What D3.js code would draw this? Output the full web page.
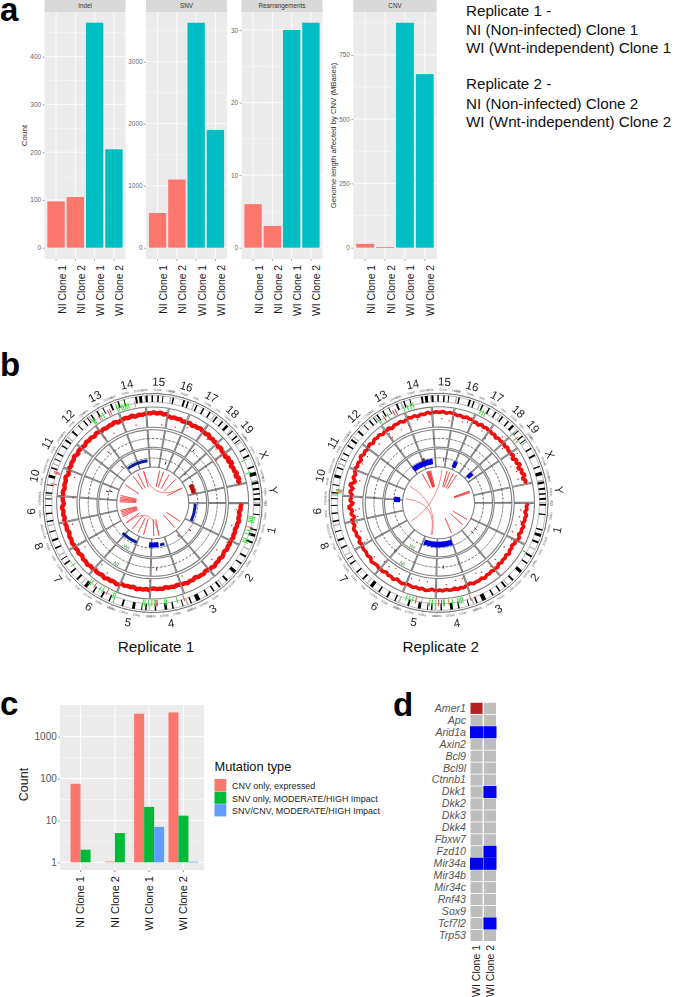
<!DOCTYPE html>
<html><head><meta charset="utf-8">
<script src="https://cdn.jsdelivr.net/npm/d3@7/dist/d3.min.js"></script>
<style>
html,body{margin:0;padding:0;background:#fff}
svg{display:block}
text{font-family:"Liberation Sans",Arial,sans-serif}
</style></head><body><svg id="c" width="674" height="997"><defs><filter id="soft" x="-5%" y="-5%" width="110%" height="110%"><feGaussianBlur stdDeviation="0.3"/></filter></defs></svg>
<script>
// ---------- panel a ----------
const clones = ["NI Clone 1","NI Clone 2","WI Clone 1","WI Clone 2"];
const indelValues = [97,106,471,206];
const snvValues = [560,1100,3630,1900];
const rearrangementValues = [6,3,30,31];
const cnvValues = [15,2,875,675];
const indelTicks = [0,100,200,300,400];
const snvTicks = [0,1000,2000,3000];
const rearrangementTicks = [0,10,20,30];
const cnvTicks = [0,250,500,750];
const infoLines = ["Replicate 1 -","NI (Non-infected) Clone 1","WI (Wnt-independent) Clone 1","","Replicate 2 -","NI (Non-infected) Clone 2","WI (Wnt-independent) Clone 2"];

// ---------- panel b ----------
const chromNames = ["1","2","3","4","5","6","7","8","9","10","11","12","13","14","15","16","17","18","19","X","Y"];
const chromLengths = [195,182,160,157,152,150,145,129,125,131,122,120,120,125,104,98,95,91,61,171,92];
const chromBands = [
 [[5,12],[45,50],[108,114],[128,140],[160,168]],
 [[28,36],[62,68],[100,114],[150,158]],
 [[8,16],[38,44],[70,76],[105,122],[142,148]],
 [[18,22],[58,64],[85,96],[130,136]],
 [[12,18],[30,34],[60,72],[108,116]],
 [[14,20],[48,56],[88,94],[122,136]],
 [[20,28],[58,64],[100,106],[124,128]],
 [[30,36],[62,70],[100,104]],
 [[14,20],[46,52],[80,84],[108,112]],
 [[6,12],[40,44],[72,84],[110,116]],
 [[18,22],[42,48],[78,84],[104,112]],
 [[26,34],[62,66],[90,96],[110,114]],
 [[8,14],[36,42],[64,68],[98,106]],
 [[10,16],[36,40],[84,92],[100,112]],
 [[2,10],[26,32],[50,56],[70,74]],
 [[8,14],[52,60],[70,76]],
 [[10,16],[40,46],[70,76]],
 [[8,14],[38,44],[62,72]],
 [[4,8],[30,36],[50,54]],
 [[30,36],[60,68],[110,116],[135,150]],
 [[4,14],[30,38],[52,58],[72,80]]
];
const repLabels = ["Replicate 1","Replicate 2"];
// red copy-number band, per chromosome, 0 = inner edge of the ring, 1 = outer edge
const bandRep1 = [
 [.66,.60,.62,.54,.60,.55,.62,.56,.58,.52,.58,.54,.60,.52],
 [.50,.58,.54,.60,.52,.56,.62,.54,.60,.56,.64,.56,.60],
 [.56,.50,.58,.54,.56,.48,.56,.52,.58,.52,.54],
 [.52,.48,.54,.50,.52,.46,.54,.50,.52,.48,.52],
 [.58,.52,.56,.54,.60,.50,.56,.54,.58,.52],
 [.60,.66,.58,.64,.60,.68,.60,.64,.66,.58],
 [.68,.62,.70,.64,.68,.60,.68,.64,.70],
 [.64,.72,.66,.70,.62,.70,.66,.72],
 [.74,.66,.72,.68,.76,.64,.70,.72],
 [.68,.74,.66,.72,.68,.76,.64,.72],
 [.76,.68,.74,.70,.78,.68,.74,.70],
 [.72,.64,.72,.66,.70,.62,.70,.64],
 [.58,.66,.60,.64,.62,.68,.58,.64],
 [.62,.68,.62,.70,.60,.68,.64,.70],
 [.72,.68,.74,.68,.74,.66,.72],
 [.64,.56,.62,.58,.62,.54,.60],
 [.56,.62,.54,.60,.58,.64,.56],
 [.62,.54,.64,.52,.60,.54,.60],
 [.58,.50,.60,.52,.56],
 [.60,.48,.64,.50,.68,.50,.62,.56,.70,.54,.72,.60,.70],[]];
const bandRep2 = [
 [.68,.60,.64,.54,.66,.58,.62,.52,.64,.56,.60,.50,.62,.56],
 [.48,.54,.44,.52,.48,.58,.46,.54,.50,.56,.48,.60,.52],
 [.60,.52,.58,.54,.64,.54,.60,.58,.62,.52,.58],
 [.56,.64,.58,.66,.54,.62,.60,.56,.62,.56,.62],
 [.62,.54,.60,.64,.56,.62,.56,.62,.58,.56],
 [.56,.64,.60,.54,.66,.58,.62,.54,.64,.60],
 [.66,.58,.62,.68,.56,.64,.58,.62,.60],
 [.54,.64,.52,.62,.58,.66,.54,.62],
 [.68,.46,.62,.52,.72,.48,.64,.54],
 [.50,.68,.54,.74,.48,.66,.58,.72],
 [.74,.64,.70,.60,.76,.64,.70,.62],
 [.66,.74,.62,.72,.66,.72,.60,.70],
 [.62,.70,.58,.68,.64,.70,.60,.68],
 [.74,.66,.72,.64,.72,.68,.76,.66],
 [.72,.76,.72,.78,.70,.76,.72],
 [.74,.66,.72,.64,.72,.66,.72],
 [.58,.66,.56,.68,.60,.66,.58],
 [.66,.56,.64,.52,.62,.58,.62],
 [.66,.54,.64,.56,.60],
 [.54,.66,.48,.68,.56,.74,.52,.70,.60,.76,.56,.72,.64],[]];
const outliersRep1 = [[1771,.26],[1824,.2],[1953,.2],[1620,.58],[1390,.2],[2169,.17],[2094,.14],[2468,.07],[2460,.35],[273,.18],[212,.42],[35,.4],[931,.38],[897,.48],[696,.13],[515,.15],[981,.2],[1113,.25],[1500,.32],[1640,.42],[2230,.34],[2350,.4],[2420,.36],[120,.32],[330,.3],[1250,.36]];
const outliersRep2 = [[1776,.45],[1777,.21],[1785,.6],[1612,.44],[1567,.48],[1436,.45],[1325,.36],[1330,.19],[1363,.41],[1259,.4],[1151,.41],[1155,.21],[1004,.21],[966,.25],[931,.12],[787,.2],[742,.2],[586,.18],[548,.18],[384,.33],[256,.16],[162,.18],[121,.24],[74,.31],[38,.34],[2482,.85],[2525,.25],[2377,.8],[2315,.68],[2316,.2],[2193,.5],[2169,.43],[2100,.34],[1994,.29],[1937,.5],[1887,.36],[1480,.3],[1700,.38],[1290,.3],[1210,.34],[1060,.4],[900,.28],[830,.24],[640,.32],[470,.2],[440,.3],[340,.22],[200,.3],[96,.42],[2420,.4],[2560,.42],[2600,.35],[2280,.4],[2060,.42],[1840,.3]];
// genome position (Mb along the circle), arc type
const arcsRep1 = [[8,189,"thin"],[1775,1991,"thin"],[621,719,"thick"],[560,606,"thin"],[848,1022,"thin"],[2528,2627,"gain"]];
const arcsRep2 = [[540,833,"block"],[1765,1985,"block"],[2196,2240,"small"],[2392,2437,"small"],[1370,1424,"small"]];
// [genome Mb, ring fraction, ring index]
const marksRep1 = [[1733,.65,2],[655,.6,2],[1471,.6,3],[1741,.6,3],[2180,.33,3],[393,.33,3],[273,.55,3],[2330,.6,2],[1480,.4,3],[2410,.4,3]];
const marksRep2 = [[1911,.5,3],[1885,.5,3],[1900,.55,3],[2097,.4,3],[265,.5,3],[310,.5,3],[649,.5,2],[1000,.5,2]];
// links between two genome positions
const linksRep1 = [[2135,2137],[2188,2190],[2271,2273],[2377,2379],[2521,2523],[1923,1925],[1840,1842],[1771,1773],[1616,1618],[1378,1379],[1398,1399],[1418,1419],[1438,1439],[1462,1463],[1178,1179],[1200,1201],[1222,1223],[1244,1245],[1264,1265],[1082,1084],[969,971],[880,882],[802,804],[666,668],[598,600],[363,365],[257,259],[2521,1923],[1082,598]];
const linksRep2 = [[1821,1823],[1885,1888],[1892,1895],[1900,1903],[1908,1911],[1915,1918],[1925,1928],[1938,1941],[2157,2159],[2195,2197],[2248,2250],[2294,2296],[2566,2568],[2574,2576],[2589,2591],[227,229],[318,320],[503,505],[2089,1105],[1590,765],[1416,780]];
// mutation markers next to the ideogram
const markerGenomeRep1 = [61,68,76,83,106,121,136,159,167,174,544,575,621,628,661,666,670,671,685,700,715,723,848,855,886,906,920,946,964,973,1075,1444,1491,1497,1771,1775,1780,1802,1810,1822,1847,1856,1888,1895,1908,1915,1923,1930,1938,1967,2536,2594];
const markerTypeRep1 = "ggggrggggg" + "rgggorggggg" + "g" + "ggrggrgg" + "g" + "rrr" + "gggrggrr" + "ggggggg" + "k" + "gg";
const markerGenomeRep2 = [224,541,576,583,590,598,621,636,657,658,668,681,693,708,719,755,780,795,810,823,1771,1777,1798,1817,1844,1855,1891,1908,1923,1934,2230,2242,2253,2400,2425,2438,1406,1412,1418];
const markerTypeRep2 = "dr" + "gggggo" + "dgdrggg" + "krggg" + "ggrgrr" + "gggg" + "ggg" + "drg" + "ogr";

// ---------- panel c ----------
const mutationTypes = ["CNV only, expressed","SNV only, MODERATE/HIGH Impact","SNV/CNV, MODERATE/HIGH Impact"];
const cnvOnlyCounts = [75,1.04,3550,3800];
const snvOnlyCounts = [2,5,21,13];
const bothCounts = [null,null,7,1.03];
const logTicks = [1,10,100,1000];
const logMinorTicks = [3.162,31.62,316.2,3162];

// ---------- panel d ----------
const genes = ["Amer1","Apc","Arid1a","Axin2","Bcl9","Bcl9l","Ctnnb1","Dkk1","Dkk2","Dkk3","Dkk4","Fbxw7","Fzd10","Mir34a","Mir34b","Mir34c","Rnf43","Sox9","Tcf7l2","Trp53"];
const wiClones = ["WI Clone 1","WI Clone 2"];
const clone1Status = ["mut","","loss","","","","","","","","","","","loss","","","","","",""];
const clone2Status = ["","","loss","","","","","loss","","","","","loss","loss","","","","","loss",""];

const svg = d3.select("#c");
const salmon="#fb776e", teal="#00bfc4";

// ---- letters and side text ----
[["a",0,21],["b",0,376],["c",0,715],["d",393,716]].forEach(([t,x,y])=>
  svg.append("text").attr("x",x).attr("y",y).attr("font-size",33).attr("font-weight","bold").attr("fill","#000").text(t));
const infoBase=[15.5,34.5,52.7,null,89.3,108.5,126.7];
infoLines.forEach((t,i)=>{ if(t) svg.append("text").attr("x",466).attr("y",infoBase[i]).attr("font-size",15.2).attr("fill","#111").text(t); });

// ---- panel a ----
function facet(x0,x1,title,values,ticks,yTitle,yTitleX){
  const top=12,bottom=259,yZero=247.7,yMax=22.7;
  const g=svg.append("g");
  g.append("rect").attr("x",x0).attr("y",0).attr("width",x1-x0).attr("height",top).attr("fill","#d9d9d9");
  g.append("text").attr("x",(x0+x1)/2).attr("y",8).attr("text-anchor","middle").attr("font-size",6.3).attr("fill","#333").text(title);
  g.append("rect").attr("x",x0).attr("y",top).attr("width",x1-x0).attr("height",bottom-top).attr("fill","#ebebeb");
  const x=d3.scaleBand().domain(clones).range([x0,x1]).paddingInner(.1).paddingOuter(.15);
  const y=d3.scaleLinear().domain([0,d3.max(values)]).range([yZero,yMax]);
  const step=ticks[1]-ticks[0];
  const minor=ticks.map(t=>t+step/2).filter(t=>y(t)>top);
  g.selectAll(".mi").data(minor).join("line").attr("x1",x0).attr("x2",x1).attr("y1",d=>y(d)).attr("y2",d=>y(d)).attr("stroke","#fff").attr("stroke-width",.4);
  g.selectAll(".ma").data(ticks).join("line").attr("x1",x0).attr("x2",x1).attr("y1",d=>y(d)).attr("y2",d=>y(d)).attr("stroke","#fff").attr("stroke-width",.8);
  g.selectAll(".v").data(clones).join("line").attr("x1",d=>x(d)+x.bandwidth()/2).attr("x2",d=>x(d)+x.bandwidth()/2).attr("y1",top).attr("y2",bottom).attr("stroke","#fff").attr("stroke-width",.8);
  g.selectAll(".b").data(values).join("rect").attr("x",(d,i)=>x(clones[i])).attr("width",x.bandwidth())
    .attr("y",d=>y(d)).attr("height",d=>Math.max(.8,yZero-y(d))).attr("fill",(d,i)=>i<2?salmon:teal);
  const ay=g.append("g").attr("transform",`translate(${x0},0)`).call(d3.axisLeft(y).tickValues(ticks).tickSize(2).tickPadding(1.5).tickFormat(d3.format("d")));
  ay.select(".domain").remove();
  ay.selectAll("line").attr("stroke","#555").attr("stroke-width",.5);
  ay.selectAll("text").attr("font-size",6.4).attr("fill","#666").style("font-family",'"Liberation Sans",Arial,sans-serif');
  const ax=g.append("g").attr("transform",`translate(0,${bottom})`).call(d3.axisBottom(x).tickSize(2));
  ax.select(".domain").remove();
  ax.selectAll("line").attr("stroke","#555").attr("stroke-width",.5);
  ax.selectAll("text").attr("font-size",10.3).attr("fill","#1a1a1a").style("font-family",'"Liberation Sans",Arial,sans-serif')
    .attr("text-anchor","end").attr("dy",0).attr("y",0).attr("transform","translate(9.5,6) rotate(-90)");
  if(yTitle) g.append("text").attr("transform",`translate(${yTitleX},135.5) rotate(-90)`).attr("text-anchor","middle").attr("font-size",yTitle.length>10?7.7:8).attr("fill","#3a2a2a").text(yTitle);
}
facet(44.5,125.5,"Indel",indelValues,indelTicks,"Count",26.7);
facet(146,227,"SNV",snvValues,snvTicks);
facet(241.5,322.5,"Rearrangements",rearrangementValues,rearrangementTicks);
facet(353.3,436.7,"CNV",cnvValues,cnvTicks,"Genome length affected by CNV (MBases)",336);

// ---- panel b ----
const genomeTotal=d3.sum(chromLengths);
const chromStart=chromLengths.map((d,i)=>d3.sum(chromLengths.slice(0,i)));
const angle=d3.scaleLinear().domain([0,genomeTotal]).range([Math.PI/2,Math.PI/2+2*Math.PI]);
const gapMb=2.6;
const ring1=d3.scaleLinear().domain([0,1]).range([75.7,96]);
const ring2=d3.scaleLinear().domain([0,1]).range([55.7,73.3]);
const ring3=d3.scaleLinear().domain([0,1]).range([36,54]);
const linkR=33;
const markerColors={g:"#22dd22",r:"#d83a3a",o:"#b07a1a",k:"#9a9a9a",d:"#148a14"};
const arcWidths={thin:[41,44],thick:[39.5,44.5],gain:[40,44.5],block:[39,44.5],small:[38.5,44.5]};

function circos(cx,cy,band,outliers,arcs,marks,links,mGen,mType,label,labelX){
  const root=svg.append("g").attr("transform",`translate(${cx},${cy})`);
  const g=root.append("g").attr("filter","url(#soft)");
  const arc=d3.arc();
  const chromData=chromNames.map((n,i)=>({n,i,s:chromStart[i],e:chromStart[i]+chromLengths[i]}));
  // tracks
  [ring1,ring2,ring3].forEach(sc=>{
    g.selectAll(null).data(chromData).join("path")
      .attr("d",d=>arc({innerRadius:sc(0),outerRadius:sc(1),startAngle:angle(d.s+gapMb),endAngle:angle(d.e-gapMb)}))
      .attr("fill","none").attr("stroke","#808080").attr("stroke-width",1.1);
  });
  [ring2,ring3].forEach(sc=>{
    g.selectAll(null).data(chromData).join("path")
      .attr("d",d=>arc({innerRadius:sc(.5),outerRadius:sc(.5),startAngle:angle(d.s+gapMb),endAngle:angle(d.e-gapMb)}))
      .attr("fill","none").attr("stroke","#444").attr("stroke-width",.55).attr("stroke-dasharray","2 2");
  });
  // ideogram
  g.selectAll(null).data(chromData).join("path")
    .attr("d",d=>arc({innerRadius:101,outerRadius:107.5,startAngle:angle(d.s+1),endAngle:angle(d.e-1)}))
    .attr("fill","#fff").attr("stroke","#777").attr("stroke-width",.5);
  chromData.forEach(d=>{
    g.selectAll(null).data(chromBands[d.i]).join("path")
      .attr("d",b=>arc({innerRadius:101,outerRadius:107.5,startAngle:angle(d.s+b[0]),endAngle:angle(d.s+b[1])}))
      .attr("fill","#000");
    g.append("path").attr("d",arc({innerRadius:109.5,outerRadius:109.5,startAngle:angle(d.s+1),endAngle:angle(d.e-1)})).attr("fill","none").attr("stroke","#444").attr("stroke-width",.5);
    d3.range(0,chromLengths[d.i],50).forEach(mb=>{
      const a=angle(d.s+mb), deg=a*180/Math.PI-90;
      const p0=d3.pointRadial(a,109.5),p1=d3.pointRadial(a,111);
      g.append("line").attr("x1",p0[0]).attr("y1",p0[1]).attr("x2",p1[0]).attr("y2",p1[1]).attr("stroke","#444").attr("stroke-width",.35);
      const p=d3.pointRadial(a,113.2);
      g.append("text").attr("transform",`translate(${p[0]},${p[1]}) rotate(${deg%360<180?deg-90:deg+90})`)
        .attr("text-anchor","middle").attr("dy",".35em").attr("font-size",3.1).attr("fill","#666").text(mb+"Mb");
    });
    const mid=angle((d.s+d.e)/2), deg=mid*180/Math.PI-90, p=d3.pointRadial(mid,121.5);
    g.append("text").attr("transform",`translate(${p[0]},${p[1]}) rotate(${deg%360<180?deg-90:deg+90})`)
      .attr("text-anchor","middle").attr("dy",".36em").attr("font-size",11.6).attr("fill","#222").text(d.n);
  });
  // mutation markers
  g.selectAll(null).data(mGen).join("line").each(function(mb,i){
    const a=angle(mb),p0=d3.pointRadial(a,97),p1=d3.pointRadial(a,103.5);
    d3.select(this).attr("x1",p0[0]).attr("y1",p0[1]).attr("x2",p1[0]).attr("y2",p1[1])
      .attr("stroke",markerColors[mType[i]]).attr("stroke-width",.9);
  });
  // copy-number band and outliers
  const radial=d3.lineRadial().curve(d3.curveLinear);
  chromData.forEach(d=>{
    const vals=band[d.i]; if(!vals.length) return;
    const pos=d3.scaleLinear().domain([0,vals.length-1]).range([d.s+3,d.e-3]);
    g.append("path").attr("d",radial(vals.map((v,k)=>[angle(pos(k)),ring1(v)])))
      .attr("fill","none").attr("stroke","#f01010").attr("stroke-width",cx<200?4.4:3.6).attr("stroke-linejoin","bevel");
  });
  g.selectAll(null).data(outliers).join("circle")
    .attr("cx",d=>d3.pointRadial(angle(d[0]),ring1(d[1]))[0]).attr("cy",d=>d3.pointRadial(angle(d[0]),ring1(d[1]))[1])
    .attr("r",.7).attr("fill","#f01414");
  // arcs
  g.selectAll(null).data(arcs).join("path")
    .attr("d",d=>arc({innerRadius:arcWidths[d[2]][0],outerRadius:arcWidths[d[2]][1],startAngle:angle(d[0]),endAngle:angle(d[1])}))
    .attr("fill",d=>d[2]==="gain"?"#c01010":(d[2]==="thin"?"#0b1e9a":"#0000e0"));
  // small marks
  g.selectAll(null).data(marks).join("line").each(function(d){
    const sc=d[2]===2?ring2:ring3, r=sc(d[1]), a=angle(d[0]);
    const p0=d3.pointRadial(a,r-1.5),p1=d3.pointRadial(a,r+1.5);
    d3.select(this).attr("x1",p0[0]).attr("y1",p0[1]).attr("x2",p1[0]).attr("y2",p1[1]).attr("stroke",d[0]%2?"#7a1010":"#1a2a70").attr("stroke-width",1);
  });
  // links
  g.selectAll(null).data(links).join("path").attr("d",d=>{
    const p=d3.path(),a=d3.pointRadial(angle(d[0]),linkR),b=d3.pointRadial(angle(d[1]),linkR);
    p.moveTo(a[0],a[1]);p.quadraticCurveTo(0,0,b[0],b[1]);return p.toString();
  }).attr("fill","none").attr("stroke","#f03a3a").attr("stroke-width",.6);
  // track names
  [["WI",ring3,.85],["NI",ring2,.85]].forEach(([t,sc,f])=>{
    const p=d3.pointRadial(angle(915),sc(f));
    g.append("text").attr("transform",`translate(${p[0]},${p[1]}) rotate(31)`).attr("text-anchor","middle").attr("dy",".35em").attr("font-size",5.2).attr("fill","#2e8b3a").text(t);
  });
  svg.append("text").attr("x",labelX).attr("y",651.5).attr("text-anchor","middle").attr("font-size",15.3).attr("fill","#111").text(label);
}
circos(152.7,503,bandRep1,outliersRep1,arcsRep1,marksRep1,linksRep1,markerGenomeRep1,markerTypeRep1,repLabels[0],156);
circos(438.5,502.8,bandRep2,outliersRep2,arcsRep2,marksRep2,linksRep2,markerGenomeRep2,markerTypeRep2,repLabels[1],440.7);

// ---- panel c ----
(function(){
  const x0=60,x1=204,top=705,bottom=870;
  const g=svg.append("g");
  g.append("rect").attr("x",x0).attr("y",top).attr("width",x1-x0).attr("height",bottom-top).attr("fill","#ebebeb");
  const x=d3.scaleBand().domain(clones).range([x0,x1]).paddingInner(.1).paddingOuter(.15);
  const y=d3.scaleLog().domain([1,1000]).range([862.3,736.7]);
  g.selectAll(".mi").data(logMinorTicks).join("line").attr("x1",x0).attr("x2",x1).attr("y1",d=>y(d)).attr("y2",d=>y(d)).attr("stroke","#fff").attr("stroke-width",.5);
  g.selectAll(".ma").data(logTicks).join("line").attr("x1",x0).attr("x2",x1).attr("y1",d=>y(d)).attr("y2",d=>y(d)).attr("stroke","#fff").attr("stroke-width",1);
  const cx=c=>x(c)+x.bandwidth()/2;
  g.selectAll(".v").data(clones).join("line").attr("x1",cx).attr("x2",cx).attr("y1",top).attr("y2",bottom).attr("stroke","#fff").attr("stroke-width",1);
  const colors=[salmon,"#00ba38","#619cff"];
  const barW=10;
  clones.forEach((c,i)=>{
    const row=[cnvOnlyCounts[i],snvOnlyCounts[i],bothCounts[i]];
    const present=row.map((v,k)=>[v,k]).filter(d=>d[0]!=null);
    const off=d3.scaleBand().domain(present.map(d=>d[1])).range([-barW*present.length/2,barW*present.length/2]);
    g.selectAll(null).data(present).join("rect")
      .attr("x",d=>cx(c)+off(d[1])).attr("width",off.bandwidth())
      .attr("y",d=>y(d[0])).attr("height",d=>Math.max(.7,y(1)-y(d[0]))).attr("fill",d=>colors[d[1]]);
  });
  const ay=g.append("g").attr("transform",`translate(${x0},0)`).call(d3.axisLeft(y).tickValues(logTicks).tickSize(2).tickPadding(1.2).tickFormat(d3.format("d")));
  ay.select(".domain").remove();
  ay.selectAll("line").attr("stroke","#555").attr("stroke-width",.6);
  ay.selectAll("text").attr("font-size",10).attr("fill","#555").style("font-family",'"Liberation Sans",Arial,sans-serif');
  const ax=g.append("g").attr("transform",`translate(0,${bottom})`).call(d3.axisBottom(x).tickSize(2));
  ax.select(".domain").remove();
  ax.selectAll("line").attr("stroke","#555").attr("stroke-width",.6);
  ax.selectAll("text").attr("font-size",11).attr("fill","#1a1a1a").style("font-family",'"Liberation Sans",Arial,sans-serif')
    .attr("text-anchor","end").attr("dy",0).attr("y",0).attr("transform","translate(3.9,6) rotate(-90)");
  g.append("text").attr("transform","translate(27.5,784.5) rotate(-90)").attr("text-anchor","middle").attr("font-size",12.5).attr("fill","#222").text("Count");
  g.append("text").attr("x",214.5).attr("y",771).attr("font-size",12.8).attr("fill","#111").text("Mutation type");
  mutationTypes.forEach((t,i)=>{
    g.append("rect").attr("x",214.5).attr("y",779+i*12.6).attr("width",11.8).attr("height",12.2).attr("fill",colors[i]);
    g.append("text").attr("x",232).attr("y",789+i*12.6).attr("font-size",8.95).attr("fill","#222").text(t);
  });
})();

// ---- panel d ----
(function(){
  const g=svg.append("g");
  const xs=d3.scaleBand().domain(wiClones).range([470.5,496]).paddingInner(.1);
  const ys=d3.scaleBand().domain(genes).range([702.8,941]).paddingInner(.07);
  const status=[clone1Status,clone2Status];
  const col={"":"#bebebe",loss:"#0000f0",mut:"#b22222"};
  wiClones.forEach((c,k)=>{
    g.selectAll(null).data(genes).join("rect")
      .attr("x",d=>xs(c)-(status[k][genes.indexOf(d)]==="loss"?.5:0))
      .attr("y",d=>ys(d)-(status[k][genes.indexOf(d)]==="loss"?.5:0))
      .attr("width",d=>xs.bandwidth()+(status[k][genes.indexOf(d)]==="loss"?1:0))
      .attr("height",d=>ys.bandwidth()+(status[k][genes.indexOf(d)]==="loss"?1:0))
      .attr("fill",d=>col[status[k][genes.indexOf(d)]]);
  });
  const ay=g.append("g").attr("transform","translate(470.5,0)").call(d3.axisLeft(ys).tickSize(0).tickPadding(4.5));
  ay.select(".domain").remove();
  ay.selectAll("text").attr("font-size",10.6).attr("font-style","italic").attr("fill","#555").style("font-family",'"Liberation Sans",Arial,sans-serif');
  const ax=g.append("g").attr("transform","translate(0,945)").call(d3.axisBottom(xs).tickSize(0));
  ax.select(".domain").remove();
  ax.selectAll("text").attr("font-size",10.5).attr("fill","#1a1a1a").style("font-family",'"Liberation Sans",Arial,sans-serif')
    .attr("text-anchor","end").attr("dy",0).attr("y",0).attr("transform","translate(3.6,0) rotate(-90)");
})();
</script></body></html>
